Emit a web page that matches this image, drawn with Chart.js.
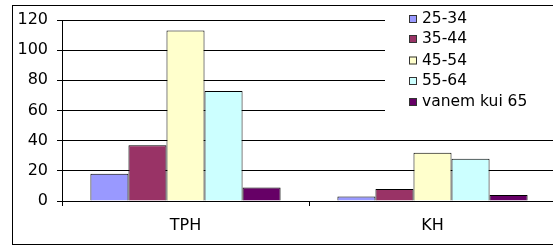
<!DOCTYPE html>
<html>
<head>
<meta charset="utf-8">
<script src="https://cdn.jsdelivr.net/npm/chart.js@4/dist/chart.umd.min.js"></script>
<style>
html,body{margin:0;padding:0;background:#fff;overflow:hidden;}
#wrap{width:560px;height:246px;}
</style>
</head>
<body>
<div id="wrap"><canvas id="c" width="560" height="246"></canvas></div>
<script>
const categories = ["TPH", "KH"];
const seriesLabels = ["25-34", "35-44", "45-54", "55-64", "vanem kui 65"];
const series2534 = [18, 3];
const series3544 = [37, 8];
const series4554 = [113, 32];
const series5564 = [73, 28];
const seriesOver65 = [9, 4];
const yTicks = [0, 20, 40, 60, 80, 100, 120];
const seriesColors = ["#9999FF", "#993366", "#FFFFCC", "#CCFFFF", "#660066"];

const allSeries = [series2534, series3544, series4554, series5564, seriesOver65];
const FONT = "'DejaVu Sans', Verdana, sans-serif";

const datasets = allSeries.map((d, i) => ({
  label: seriesLabels[i],
  data: d,
  backgroundColor: seriesColors[i],
  borderColor: "#000000",
  borderWidth: 1,
  categoryPercentage: 0.77,
  barPercentage: 1.0
}));

const frameAndLegend = {
  id: "frameAndLegend",
  afterDraw(chart) {
    const ctx = chart.ctx;
    ctx.save();
    // legend panel
    ctx.fillStyle = "#ffffff";
    ctx.fillRect(385, 6, 200, 112);
    const rowY = [19, 39, 60.5, 81, 102];
    ctx.font = "15.5px " + FONT;
    ctx.textBaseline = "middle";
    ctx.textAlign = "left";
    chart.data.datasets.forEach((ds, i) => {
      const y = rowY[i];
      ctx.fillStyle = ds.backgroundColor;
      ctx.fillRect(409, y - 4, 8, 8);
      ctx.strokeStyle = "#333333";
      ctx.lineWidth = 1;
      ctx.strokeRect(409.5, y - 3.5, 7, 7);
      ctx.fillStyle = "#000000";
      ctx.fillText(ds.label, 422, y);
    });
    // outer frame
    ctx.strokeStyle = "#000000";
    ctx.lineWidth = 1;
    ctx.strokeRect(12.5, 5.5, 700, 239);
    ctx.restore();
  }
};

new Chart(document.getElementById("c"), {
  type: "bar",
  data: { labels: categories, datasets: datasets },
  options: {
    responsive: false,
    animation: false,
    devicePixelRatio: 1,
    layout: { padding: { top: 20, left: 0, right: 4, bottom: 0 } },
    plugins: { legend: { display: false }, tooltip: { enabled: false } },
    scales: {
      x: {
        grid: { display: true, drawOnChartArea: false, drawTicks: true, tickLength: 5, color: "#000000", offset: true },
        border: { display: true, color: "#000000", width: 1 },
        ticks: { color: "#000000", font: { family: FONT, size: 16 }, padding: 10, maxRotation: 0 },
        afterFit(scale) { scale.height = 45; }
      },
      y: {
        min: 0,
        max: 120,
        afterBuildTicks(scale) { scale.ticks = yTicks.map(v => ({ value: v })); },
        grid: { color: "#000000", lineWidth: 1, tickLength: 5, drawTicks: true },
        border: { display: true, color: "#000000", width: 1 },
        ticks: { color: "#000000", font: { family: FONT, size: 16 }, padding: 9 },
        afterFit(scale) { scale.width = 62; }
      }
    }
  },
  plugins: [frameAndLegend]
});
</script>
</body>
</html>
